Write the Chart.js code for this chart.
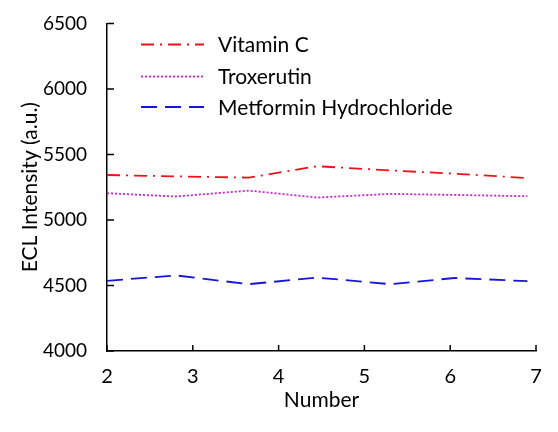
<!DOCTYPE html>
<html>
<head>
<meta charset="utf-8">
<script src="https://cdn.jsdelivr.net/npm/chart.js@4"></script>
<style>
  html, body { margin: 0; padding: 0; background: #fff; }
  #wrap { width: 558px; height: 432px; }
</style>
</head>
<body>
<div id="wrap"><canvas id="chart"></canvas></div>
<script>
const numbers = [2, 2.8, 3.65, 4.45, 5.3, 6.05, 6.9];
const vitaminC = [5343, 5333, 5323, 5410, 5378, 5353, 5320];
const troxerutin = [5204, 5179, 5224, 5171, 5199, 5191, 5181];
const metformin = [4535, 4577, 4510, 4560, 4510, 4557, 4533];
const seriesNames = ["Vitamin C", "Troxerutin", "Metformin Hydrochloride"];
const xTicks = [2, 3, 4, 5, 6, 7];
const yTicks = [4000, 4500, 5000, 5500, 6000, 6500];

const FONT = "Lato, 'Open Sans', sans-serif";

function pts(ys) {
  return ys.map((y, i) => ({ x: numbers[i], y }));
}

/* =========================
   inward ticks + legend
========================= */
const axisDecor = {
  id: "axisDecor",
  afterDraw(c) {
    const ctx = c.ctx;
    const xs = c.scales.x, ys = c.scales.y;
    const a = c.chartArea;
    ctx.save();
    ctx.strokeStyle = "#000";
    ctx.lineWidth = 1.5;
    ctx.setLineDash([]);
    ctx.beginPath();
    xTicks.forEach(v => {
      const px = xs.getPixelForValue(v);
      ctx.moveTo(px, a.bottom);
      ctx.lineTo(px, a.bottom - 6);
    });
    yTicks.forEach(v => {
      const py = ys.getPixelForValue(v);
      ctx.moveTo(a.left, py);
      ctx.lineTo(a.left + 7, py);
    });
    ctx.stroke();

    // legend
    const rows = [44.5, 76.5, 107];
    c.data.datasets.forEach((ds, i) => {
      const y = rows[i];
      ctx.strokeStyle = ds.borderColor;
      ctx.lineWidth = ds.borderWidth;
      ctx.setLineDash(ds.borderDash || []);
      ctx.beginPath();
      ctx.moveTo(141, y);
      ctx.lineTo(204, y);
      ctx.stroke();
      ctx.setLineDash([]);
      ctx.fillStyle = "#000";
      ctx.font = "21px " + FONT;
      ctx.textBaseline = "middle";
      ctx.fillText(ds.label, 218, y + 1);
    });
    ctx.restore();
  },
};

const chart = new Chart(document.getElementById("chart"), {
  type: "line",
  data: {
    datasets: [
      {
        label: seriesNames[0],
        data: pts(vitaminC),
        borderColor: "#e8141b",
        borderWidth: 1.8,
        borderDash: [13, 6, 2, 6],
      },
      {
        label: seriesNames[1],
        data: pts(troxerutin),
        borderColor: "#cc1fd6",
        borderWidth: 1.8,
        borderDash: [2, 2],
      },
      {
        label: seriesNames[2],
        data: pts(metformin),
        borderColor: "#1515d8",
        borderWidth: 1.8,
        borderDash: [16, 8],
      },
    ],
  },
  options: {
    responsive: true,
    maintainAspectRatio: false,
    animation: false,
    layout: { padding: { top: 15, right: 22, left: 0, bottom: 0 } },
    elements: { point: { radius: 0 }, line: { tension: 0 } },
    plugins: { legend: { display: false }, tooltip: { enabled: false } },
    scales: {
      x: {
        type: "linear",
        min: 2,
        max: 7,
        afterBuildTicks: s => { s.ticks = xTicks.map(v => ({ value: v })); },
        afterFit: s => { s.height = 81; },
        grid: { display: false },
        border: { display: true, color: "#000", width: 1.5 },
        ticks: { color: "#000", font: { family: FONT, size: 20 }, padding: 6, maxRotation: 0 },
        title: { display: true, text: "Number", color: "#000", font: { family: FONT, size: 21 }, padding: { top: 0, bottom: 19 } },
      },
      y: {
        min: 4000,
        max: 6500,
        afterBuildTicks: s => { s.ticks = yTicks.map(v => ({ value: v })); },
        afterFit: s => { s.width = 107; },
        grid: { display: false },
        border: { display: true, color: "#000", width: 1.5 },
        ticks: { color: "#000", font: { family: FONT, size: 19 }, padding: 12, callback: v => String(v) },
        title: { display: true, text: "ECL Intensity (a.u.)", color: "#000", font: { family: FONT, size: 21 }, padding: { top: 18, bottom: 0 } },
      },
    },
  },
  plugins: [axisDecor],
});
</script>
</body>
</html>
